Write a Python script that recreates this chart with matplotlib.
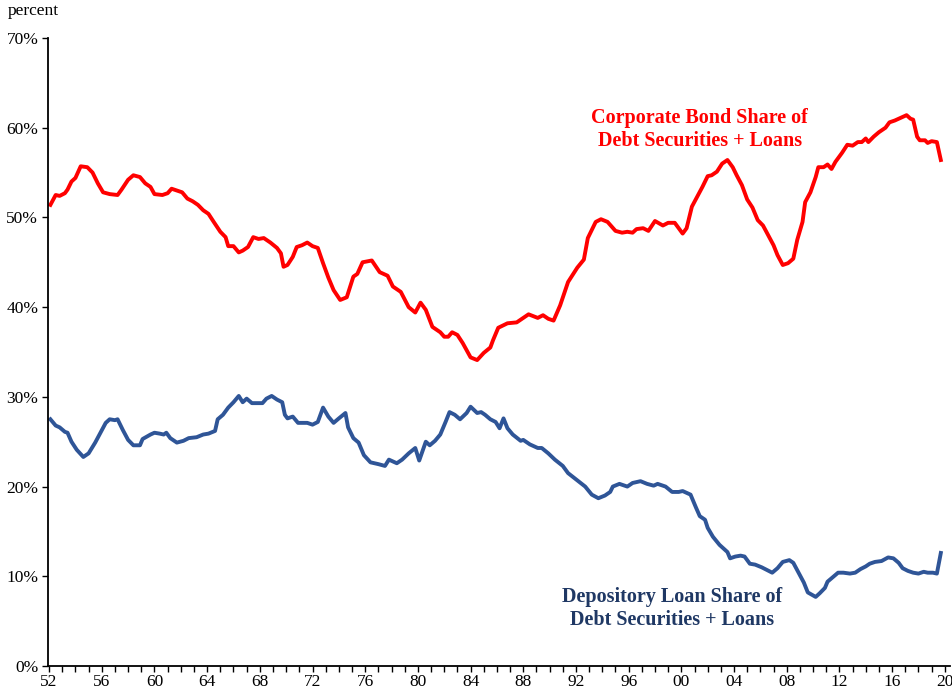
import numpy as np
import matplotlib.pyplot as plt
from matplotlib.ticker import MultipleLocator, FuncFormatter

# corporate bond share of debt securities + loans (percent)
bond_year = [1952.1, 1952.5, 1952.8, 1953.2, 1953.4, 1953.7, 1954.0, 1954.4, 1954.9, 1955.3,
             1955.7, 1956.1, 1956.6, 1957.2, 1957.5, 1958.0, 1958.4, 1958.9, 1959.3, 1959.7,
             1960.0, 1960.6, 1961.0, 1961.3, 1961.7, 1962.1, 1962.5, 1962.9, 1963.3, 1963.7,
             1964.1, 1964.5, 1965.0, 1965.4, 1965.6, 1966.0, 1966.4, 1966.7, 1967.1, 1967.5,
             1967.9, 1968.3, 1968.8, 1969.3, 1969.6, 1969.8, 1970.1, 1970.5, 1970.8, 1971.2,
             1971.6, 1972.0, 1972.4, 1972.8, 1973.2, 1973.6, 1974.1, 1974.6, 1975.1, 1975.4,
             1975.8, 1976.5, 1977.1, 1977.7, 1978.1, 1978.7, 1979.3, 1979.8, 1980.2, 1980.6,
             1981.1, 1981.7, 1982.0, 1982.3, 1982.6, 1983.0, 1983.4, 1984.0, 1984.5, 1985.0,
             1985.5, 1985.7, 1986.1, 1986.8, 1987.5, 1988.4, 1989.1, 1989.5, 1989.9, 1990.3,
             1990.8, 1991.4, 1992.1, 1992.6, 1992.9, 1993.5, 1993.9, 1994.4, 1995.0, 1995.5,
             1995.9, 1996.3, 1996.6, 1997.1, 1997.5, 1998.0, 1998.6, 1999.0, 1999.5, 2000.1,
             2000.4, 2000.8, 2001.2, 2001.6, 2002.0, 2002.3, 2002.7, 2003.1, 2003.5, 2003.9,
             2004.2, 2004.6, 2005.0, 2005.4, 2005.8, 2006.2, 2006.6, 2007.0, 2007.3, 2007.7,
             2008.1, 2008.5, 2008.8, 2009.2, 2009.4, 2009.8, 2010.2, 2010.4, 2010.8, 2011.1,
             2011.4, 2011.7, 2012.2, 2012.6, 2013.0, 2013.4, 2013.7, 2014.0, 2014.2, 2014.6,
             2015.0, 2015.5, 2015.8, 2016.2, 2016.8, 2017.1, 2017.4, 2017.6, 2017.9, 2018.1,
             2018.5, 2018.7, 2019.0, 2019.4, 2019.7]
bond_share = [51.4, 52.5, 52.4, 52.7, 53.1, 54.0, 54.4, 55.7, 55.6, 55.0,
              53.8, 52.8, 52.6, 52.5, 53.1, 54.2, 54.7, 54.5, 53.8, 53.4,
              52.6, 52.5, 52.7, 53.2, 53.0, 52.8, 52.1, 51.8, 51.4, 50.8,
              50.4, 49.5, 48.4, 47.8, 46.8, 46.8, 46.1, 46.3, 46.7, 47.8,
              47.6, 47.7, 47.2, 46.6, 46.0, 44.5, 44.7, 45.6, 46.7, 46.9,
              47.2, 46.8, 46.6, 44.9, 43.3, 41.9, 40.8, 41.1, 43.4, 43.7,
              45.0, 45.2, 43.9, 43.5, 42.3, 41.7, 40.0, 39.4, 40.5, 39.7,
              37.8, 37.2, 36.7, 36.7, 37.2, 36.9, 36.0, 34.4, 34.1, 34.9,
              35.5, 36.3, 37.7, 38.2, 38.3, 39.2, 38.8, 39.1, 38.7, 38.5,
              40.2, 42.8, 44.4, 45.3, 47.7, 49.5, 49.8, 49.5, 48.5, 48.3,
              48.4, 48.3, 48.7, 48.8, 48.5, 49.6, 49.1, 49.4, 49.4, 48.2,
              48.8, 51.2, 52.3, 53.4, 54.6, 54.7, 55.1, 56.0, 56.4, 55.6,
              54.7, 53.6, 52.0, 51.1, 49.7, 49.1, 48.0, 46.9, 45.8, 44.7,
              44.9, 45.4, 47.5, 49.5, 51.7, 52.8, 54.5, 55.6, 55.6, 55.9,
              55.4, 56.2, 57.2, 58.1, 58.0, 58.4, 58.4, 58.8, 58.4, 59.0,
              59.5, 60.0, 60.6, 60.8, 61.2, 61.4, 61.0, 60.9, 59.0, 58.6,
              58.6, 58.3, 58.5, 58.4, 56.4]

# depository loan share of debt securities + loans (percent)
loan_year = [1952.1, 1952.5, 1952.8, 1953.2, 1953.4, 1953.7, 1954.1, 1954.6, 1955.0, 1955.5,
             1955.9, 1956.3, 1956.6, 1957.0, 1957.2, 1957.6, 1958.0, 1958.4, 1958.9, 1959.1,
             1959.7, 1960.0, 1960.4, 1960.7, 1960.9, 1961.2, 1961.7, 1962.2, 1962.6, 1963.2,
             1963.7, 1964.1, 1964.6, 1964.8, 1965.2, 1965.6, 1966.0, 1966.4, 1966.7, 1967.0,
             1967.4, 1967.8, 1968.2, 1968.5, 1968.9, 1969.3, 1969.7, 1969.9, 1970.1, 1970.5,
             1970.9, 1971.6, 1972.0, 1972.4, 1972.8, 1973.2, 1973.6, 1974.0, 1974.5, 1974.7,
             1975.1, 1975.5, 1975.9, 1976.4, 1977.0, 1977.5, 1977.8, 1978.4, 1978.8, 1979.3,
             1979.8, 1980.1, 1980.6, 1980.9, 1981.3, 1981.7, 1982.1, 1982.4, 1982.8, 1983.2,
             1983.7, 1984.0, 1984.5, 1984.8, 1985.1, 1985.5, 1985.9, 1986.2, 1986.5, 1986.8,
             1987.2, 1987.8, 1988.0, 1988.5, 1989.1, 1989.4, 1989.9, 1990.4, 1991.0, 1991.4,
             1992.1, 1992.7, 1993.2, 1993.7, 1994.2, 1994.6, 1994.8, 1995.3, 1995.9, 1996.3,
             1996.9, 1997.4, 1997.9, 1998.2, 1998.8, 1999.3, 1999.8, 2000.1, 2000.7, 2001.1,
             2001.4, 2001.8, 2002.0, 2002.4, 2002.9, 2003.5, 2003.7, 2004.1, 2004.5, 2004.8,
             2005.2, 2005.6, 2006.1, 2006.5, 2006.9, 2007.3, 2007.7, 2008.2, 2008.5, 2008.9,
             2009.3, 2009.6, 2010.2, 2010.5, 2010.9, 2011.1, 2011.5, 2011.9, 2012.3, 2012.8,
             2013.2, 2013.6, 2014.0, 2014.3, 2014.7, 2015.2, 2015.7, 2016.1, 2016.5, 2016.8,
             2017.2, 2017.6, 2018.0, 2018.4, 2018.7, 2019.1, 2019.4, 2019.7]
loan_share = [27.5, 26.8, 26.6, 26.1, 26.0, 25.0, 24.1, 23.3, 23.7, 24.9,
              26.0, 27.1, 27.5, 27.4, 27.5, 26.3, 25.2, 24.6, 24.6, 25.3,
              25.8, 26.0, 25.9, 25.8, 26.0, 25.4, 24.9, 25.1, 25.4, 25.5,
              25.8, 25.9, 26.2, 27.5, 28.0, 28.8, 29.4, 30.1, 29.4, 29.8,
              29.3, 29.3, 29.3, 29.8, 30.1, 29.7, 29.4, 28.0, 27.6, 27.8,
              27.1, 27.1, 26.9, 27.2, 28.8, 27.8, 27.1, 27.6, 28.2, 26.6,
              25.4, 24.9, 23.5, 22.7, 22.5, 22.3, 23.0, 22.6, 23.0, 23.7,
              24.3, 22.9, 25.0, 24.6, 25.1, 25.8, 27.2, 28.3, 28.0, 27.5,
              28.2, 28.9, 28.2, 28.3, 28.0, 27.5, 27.2, 26.5, 27.6, 26.5,
              25.8, 25.1, 25.2, 24.7, 24.3, 24.3, 23.7, 23.0, 22.3, 21.5,
              20.7, 20.0, 19.1, 18.7, 19.0, 19.4, 20.0, 20.3, 20.0, 20.4,
              20.6, 20.3, 20.1, 20.3, 20.0, 19.4, 19.4, 19.5, 19.1, 17.7,
              16.7, 16.3, 15.4, 14.4, 13.5, 12.7, 12.0, 12.2, 12.3, 12.2,
              11.4, 11.3, 11.0, 10.7, 10.4, 10.9, 11.6, 11.8, 11.5, 10.4,
              9.3, 8.2, 7.7, 8.1, 8.7, 9.4, 9.9, 10.4, 10.4, 10.3,
              10.4, 10.8, 11.1, 11.4, 11.6, 11.7, 12.1, 12.0, 11.5, 10.9,
              10.6, 10.4, 10.3, 10.5, 10.4, 10.4, 10.3, 12.6]

serif = ['Liberation Serif', 'DejaVu Serif']
plt.rcParams['font.family'] = serif

fig = plt.figure(figsize=(9.53, 6.91), dpi=100)
ax = fig.add_axes([0.0504, 0.0362, 0.9465, 0.9088])

ax.plot(bond_year, bond_share, color='#FF0000', lw=2.8, solid_joinstyle='round')
ax.plot(loan_year, loan_share, color='#2F5597', lw=2.8, solid_joinstyle='round')

ax.set_xlim(1951.92, 2020.4)
ax.set_ylim(0, 70)

ax.xaxis.set_major_locator(MultipleLocator(4))
ax.xaxis.set_minor_locator(MultipleLocator(1))
ax.xaxis.set_major_formatter(FuncFormatter(lambda v, p: f"{int(round(v)) % 100:02d}"))
ax.yaxis.set_major_locator(MultipleLocator(10))
ax.yaxis.set_major_formatter(FuncFormatter(lambda v, p: f"{int(round(v))}%"))

ax.tick_params(axis='both', which='both', direction='out', length=4, width=1, labelsize=12.5, colors='black')
ax.tick_params(axis='x', pad=1.5)
ax.tick_params(axis='y', pad=3)

for s in ['top', 'right']:
    ax.spines[s].set_visible(False)
for s in ['left', 'bottom']:
    ax.spines[s].set_linewidth(1.3)

fig.text(0.008, 0.995, 'percent', fontsize=12.5, ha='left', va='top')

ax.text(2001.4, 59.8, 'Corporate Bond Share of\nDebt Securities + Loans', color='#FF0000',
        fontsize=14.5, fontweight='bold', ha='center', va='center', linespacing=1.15)
ax.text(1999.3, 6.4, 'Depository Loan Share of\nDebt Securities + Loans', color='#1F3864',
        fontsize=14.5, fontweight='bold', ha='center', va='center', linespacing=1.15)

fig.savefig('out.png', dpi=100)
